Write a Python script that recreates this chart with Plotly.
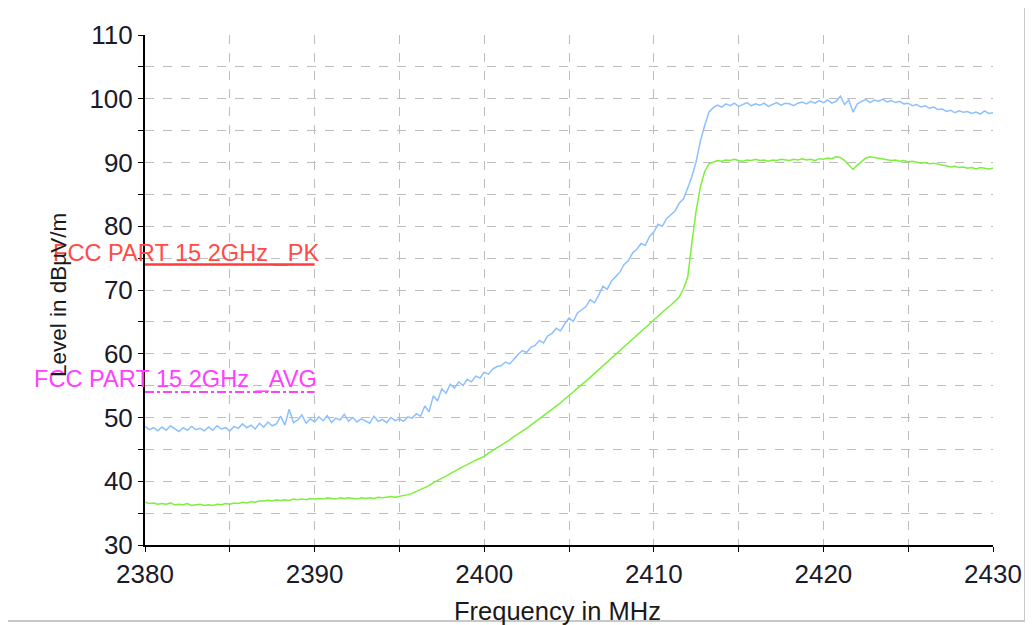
import plotly.graph_objects as go

# Sweep frequencies (MHz), 0.25 MHz step from 2380 to 2430
freq_start = 2380.0
freq_step = 0.25
n_points = 201
freq = [freq_start + i * freq_step for i in range(n_points)]

# Peak trace (dBuV/m)
level_pk = [
    48.6, 48.1, 48.4, 47.9, 48.5, 48.0, 48.7, 48.2, 47.8, 48.4, 48.0, 48.6,
    48.1, 48.3, 47.9, 48.5, 48.0, 48.7, 48.2, 48.4, 47.9, 48.6, 48.3, 49.0,
    48.4, 48.8, 48.2, 49.1, 48.5, 49.3, 48.7, 49.0, 50.2, 48.8, 51.3, 49.2,
    49.6, 50.4, 49.1, 49.8, 49.3, 50.1, 49.5, 50.3, 49.2, 49.9, 49.6, 50.5,
    49.4, 50.0, 49.3, 49.8, 49.5, 49.1, 50.2, 49.4, 49.7, 49.2, 50.0, 49.5,
    49.8, 49.4, 50.1, 49.9, 50.6, 50.2, 51.8, 50.9, 53.4, 52.6, 54.5, 53.8,
    55.2, 54.6, 55.6, 55.0, 56.0, 55.6, 56.5, 56.2, 57.1, 56.8, 57.6, 58.0,
    58.1, 58.7, 58.4, 59.2, 59.9, 60.5, 60.2, 61.0, 61.3, 62.1, 61.7, 62.8,
    63.2, 64.0, 63.6, 64.7, 65.6, 65.1, 66.4, 66.9, 67.4, 68.5, 68.0, 69.2,
    70.6, 70.1, 71.4, 72.1, 72.8, 74.0, 74.6, 75.8, 76.4, 77.3, 77.0, 78.4,
    79.1, 80.3, 80.0, 81.2, 81.8, 82.4, 83.6, 84.3, 86.0, 87.8, 90.2, 93.4,
    95.8, 97.9, 98.6, 99.0, 98.7, 99.2, 98.9, 99.3, 98.8, 99.1, 99.4, 98.9,
    99.2, 99.0, 99.3, 98.8, 99.1, 99.4, 99.0, 99.3, 99.2, 98.9, 99.3, 99.5,
    99.2, 99.6, 99.3, 99.7, 99.4, 99.8, 99.3, 99.6, 100.4, 99.1, 99.8, 97.9,
    99.2, 99.6, 99.9, 99.4, 99.8, 99.6, 99.9, 99.5, 99.7, 99.4, 99.6, 99.2,
    99.3, 98.9, 99.1, 98.7, 98.9, 98.5, 98.7, 98.3, 98.4, 98.0, 98.2, 97.8,
    98.1, 97.9, 98.0, 97.7, 97.9, 97.6, 98.1, 97.7, 97.8,
]

# Average trace (dBuV/m)
level_avg = [
    36.7, 36.5, 36.6, 36.4, 36.5, 36.4, 36.6, 36.3, 36.4, 36.3, 36.5, 36.2,
    36.3, 36.4, 36.2, 36.3, 36.2, 36.4, 36.3, 36.5, 36.4, 36.6, 36.5, 36.7,
    36.6, 36.8, 36.7, 36.9, 36.9, 37.0, 36.9, 37.1, 37.0, 37.1, 37.0, 37.2,
    37.1, 37.2, 37.1, 37.3, 37.2, 37.3, 37.2, 37.4, 37.3, 37.2, 37.4, 37.3,
    37.4, 37.3, 37.2, 37.4, 37.3, 37.4, 37.3, 37.5, 37.4, 37.5, 37.6, 37.5,
    37.6, 37.7, 37.9, 38.1, 38.4, 38.7, 39.0, 39.3, 39.8, 40.1, 40.5, 40.8,
    41.2, 41.6, 41.9, 42.3, 42.6, 43.0, 43.3, 43.6, 43.9, 44.4, 44.8, 45.2,
    45.6, 46.1, 46.5, 47.0, 47.4, 47.9, 48.3, 48.8, 49.3, 49.8, 50.2, 50.7,
    51.2, 51.8, 52.3, 52.9, 53.4, 54.0, 54.6, 55.1, 55.7, 56.3, 56.9, 57.5,
    58.1, 58.7, 59.3, 59.9, 60.6, 61.2, 61.8, 62.4, 63.0, 63.6, 64.2, 64.8,
    65.4, 66.0, 66.5, 67.1, 67.6, 68.2, 68.9, 70.2, 72.0, 77.5, 82.5, 86.2,
    88.6, 89.8, 90.1, 90.3, 90.2, 90.4, 90.3, 90.5, 90.3, 90.2, 90.4, 90.3,
    90.5, 90.3, 90.4, 90.2, 90.4, 90.3, 90.5, 90.4, 90.3, 90.5, 90.4, 90.6,
    90.4, 90.5, 90.3, 90.6, 90.5, 90.7, 90.6, 90.9, 90.8, 90.3, 89.6, 88.9,
    89.6, 90.2, 90.7, 90.9, 90.8, 90.6, 90.5, 90.4, 90.3, 90.4, 90.2, 90.3,
    90.1, 90.2, 90.0, 89.9, 90.0, 89.8, 89.9, 89.7, 89.6, 89.5, 89.3, 89.4,
    89.2, 89.3, 89.1, 89.2, 89.0, 89.2, 89.1, 89.0, 89.1,
]

# Limit lines
limit_freq = [2380, 2390]
limit_pk = [74, 74]
limit_avg = [54, 54]
limit_pk_name = "FCC PART 15 2GHz _PK"
limit_avg_name = "FCC PART 15 2GHz _AVG"

# Axis ticks
x_tickvals = list(range(2380, 2431, 5))
x_ticktext = [str(v) if v % 10 == 0 else "" for v in x_tickvals]
y_tickvals = list(range(30, 111, 5))
y_ticktext = [str(v) if v % 10 == 0 else "" for v in y_tickvals]

FONT = "Liberation Sans, Arial, sans-serif"

fig = go.Figure()
fig.add_trace(go.Scatter(x=freq, y=level_avg, mode="lines",
                         line=dict(color="#7cf03a", width=1.5), showlegend=False))
fig.add_trace(go.Scatter(x=freq, y=level_pk, mode="lines",
                         line=dict(color="#8cc0ff", width=1.5), showlegend=False))
fig.add_trace(go.Scatter(x=limit_freq, y=limit_pk, mode="lines",
                         line=dict(color="#ff3b3b", width=2.5), showlegend=False))
fig.add_trace(go.Scatter(x=limit_freq, y=limit_avg, mode="lines",
                         line=dict(color="#ff40ff", width=2, dash="dashdot"),
                         showlegend=False))

fig.add_annotation(x=limit_freq[1], y=limit_pk[0], xref="x", yref="y",
                   text=limit_pk_name, showarrow=False, xanchor="right",
                   yanchor="middle", xshift=6, yshift=12,
                   font=dict(family=FONT, size=23.6, color="#ff4a4a"))
fig.add_annotation(x=limit_freq[1], y=limit_avg[0], xref="x", yref="y",
                   text=limit_avg_name, showarrow=False, xanchor="right",
                   yanchor="middle", xshift=4, yshift=13,
                   font=dict(family=FONT, size=23.6, color="#ff40ff"))

fig.add_annotation(x=-0.1026, y=0.49, xref="paper", yref="paper",
                   text="Level in dBµV/m", textangle=-90, showarrow=False,
                   xanchor="center", yanchor="middle",
                   font=dict(family=FONT, size=22.5, color="#1a1a1a"))
fig.add_annotation(x=0.486, y=-0.129, xref="paper", yref="paper",
                   text="Frequency in MHz", showarrow=False,
                   xanchor="center", yanchor="middle",
                   font=dict(family=FONT, size=25.5, color="#1a1a1a"))

# outer frame
fig.add_shape(type="rect", xref="paper", yref="paper",
              x0=-0.1627, x1=1.0377, y0=-0.149, y1=1.0549,
              line=dict(color="#c8c8c8", width=2), layer="below")

grid = dict(showgrid=True, gridcolor="#bdbdbd", gridwidth=1, griddash="dash")
fig.update_xaxes(range=[2380, 2430], tickmode="array", tickvals=x_tickvals,
                 ticktext=x_ticktext, ticks="outside", ticklen=5,
                 tickcolor="black", showline=True, linecolor="black",
                 linewidth=2, zeroline=False,
                 tickfont=dict(family=FONT, size=26, color="#1a1a2a"), **grid)
fig.update_yaxes(range=[30, 110], tickmode="array", tickvals=y_tickvals,
                 ticktext=y_ticktext, ticks="outside", ticklen=5,
                 tickcolor="black", showline=True, linecolor="black",
                 linewidth=2, zeroline=False,
                 tickfont=dict(family=FONT, size=26, color="#1a1a2a"), **grid)

# margins account for the 8px page margin of the html body
fig.update_layout(width=1033, height=625,
                  margin=dict(l=137, r=48, t=27, b=88),
                  plot_bgcolor="white", paper_bgcolor="white",
                  showlegend=False)

fig.write_html("out.html")
